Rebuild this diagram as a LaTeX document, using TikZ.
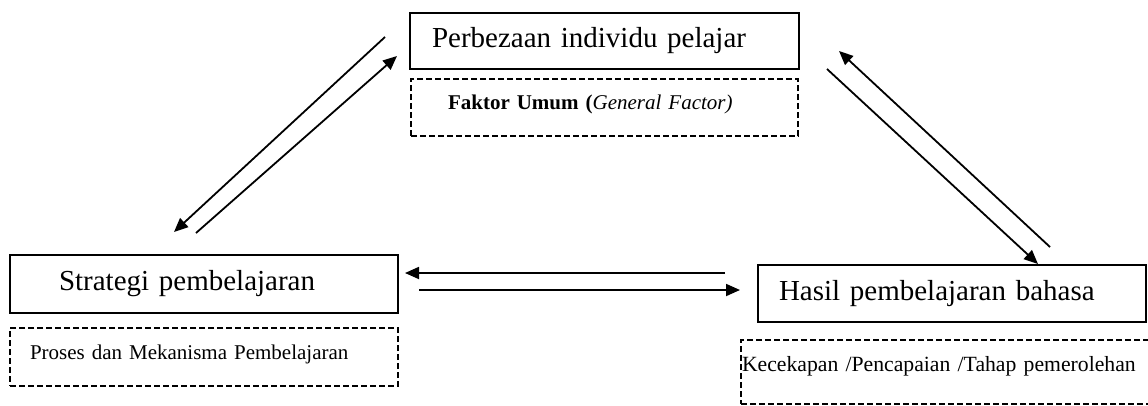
\documentclass[tikz,border=0pt]{standalone}
\usepackage{fontspec}
\setmainfont{Liberation Serif}
\usetikzlibrary{arrows.meta}
\begin{document}
\begin{tikzpicture}[x=1pt,y=-1pt,
  mainbox/.style={draw, line width=2pt, align=left, inner ysep=0pt,
    font=\fontsize{29}{33}\selectfont},
  subbox/.style={draw, line width=1.5pt, dash pattern=on 6pt off 3pt, align=left,
    inner ysep=0pt, text height=15pt, font=\fontsize{21}{24}\selectfont},
  link/.style={line width=1.8pt, -{Triangle[length=14pt,width=12pt]}}]
\useasboundingbox[fill=white] (0,0) rectangle (1148,405);

% main boxes
\node[mainbox, minimum width=389pt, minimum height=56pt, inner xsep=22pt, text width=345pt]
  (pi) at (604.5,41) {Perbezaan individu pelajar};
\node[mainbox, minimum width=388pt, minimum height=58pt, inner xsep=49pt, text width=290pt]
  (sp) at (204,284) {Strategi pembelajaran};
\node[mainbox, minimum width=388pt, minimum height=57pt, inner xsep=21pt, text width=346pt]
  (hp) at (952,293.5) {Hasil pembelajaran bahasa};

% dashed boxes
\node[subbox, minimum width=387pt, minimum height=57pt, inner xsep=37pt, text width=313pt, text depth=12pt]
  (fu) at (604.5,107.5) {\textbf{Faktor Umum (}\textit{General Factor)}};
\node[subbox, minimum width=388pt, minimum height=58pt, inner xsep=20pt, text width=348pt, text depth=11pt]
  (pm) at (204,357) {Proses dan Mekanisma Pembelajaran};
\node[subbox, minimum width=424pt, minimum height=64pt, inner xsep=1pt, text width=422pt, text depth=17pt,
  font=\fontsize{21.7}{24}\selectfont]
  (kp) at (953,372) {Kecekapan /Pencapaian /Tahap pemerolehan};

% connector end points
\coordinate (a1s) at (385,37);  \coordinate (a1e) at (174,232);
\coordinate (a2s) at (196,233); \coordinate (a2e) at (397,56);
\coordinate (b1s) at (1050,247); \coordinate (b1e) at (839,51);
\coordinate (b2s) at (827,69);  \coordinate (b2e) at (1038,264);
\coordinate (c1s) at (725,273); \coordinate (c1e) at (405,273);
\coordinate (c2s) at (419,290); \coordinate (c2e) at (740,290);

\draw[link] (a1s) -- (a1e);
\draw[link] (a2s) -- (a2e);
\draw[link] (b1s) -- (b1e);
\draw[link] (b2s) -- (b2e);
\draw[link] (c1s) -- (c1e);
\draw[link] (c2s) -- (c2e);
\end{tikzpicture}
\end{document}
